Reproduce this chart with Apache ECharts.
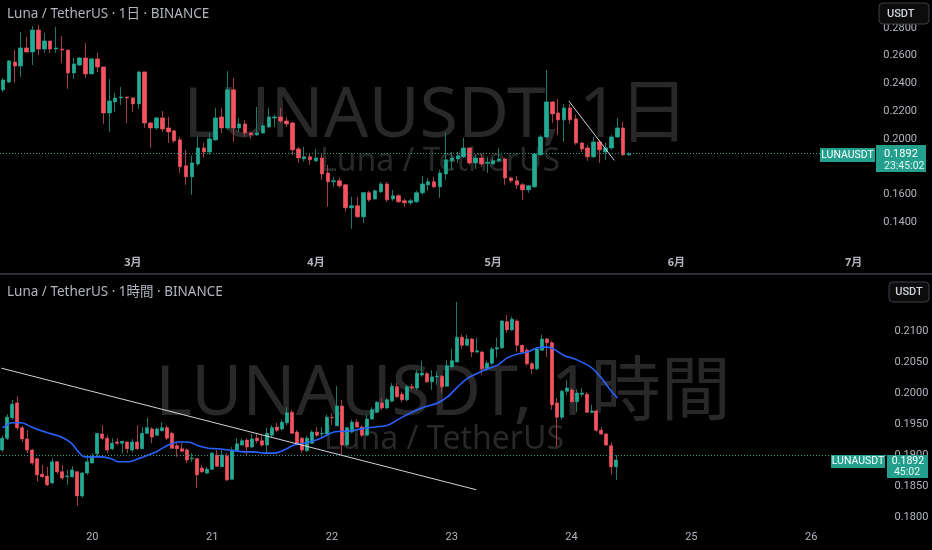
<!DOCTYPE html>
<html><head><meta charset="utf-8">
<script src="https://cdn.jsdelivr.net/npm/echarts/dist/echarts.min.js"></script>
<style>html,body{margin:0;padding:0;background:#000;}#c{width:932px;height:550px;}</style>
</head><body><div id="c"></div><script>
// ---------- DATA ----------
const lastPrice = 0.1892;
const monthLabels = ['3月','4月','5月','6月','7月'];
const dayLabels = ['20','21','22','23','24','25','26'];
// daily candles from 2025-02-07 : [open, close, low, high]
const dailyCandles = [
[0.2353,0.2424,0.2338,0.2439],[0.2410,0.2561,0.2403,0.2568],[0.2554,0.2525,0.2403,0.2640],[0.2525,0.2655,0.2446,0.2770],
[0.2655,0.2626,0.2619,0.2734],[0.2626,0.2784,0.2532,0.2813],[0.2784,0.2647,0.2604,0.2820],[0.2647,0.2705,0.2619,0.2763],
[0.2705,0.2647,0.2619,0.2705],[0.2647,0.2655,0.2619,0.2806],[0.2647,0.2640,0.2547,0.2741],[0.2640,0.2475,0.2360,0.2640],
[0.2475,0.2540,0.2432,0.2583],[0.2532,0.2583,0.2525,0.2590],[0.2583,0.2468,0.2439,0.2691],[0.2468,0.2576,0.2468,0.2583],
[0.2576,0.2518,0.2482,0.2619],[0.2518,0.2187,0.2108,0.2518],[0.2187,0.2273,0.2050,0.2432],[0.2266,0.2295,0.2194,0.2331],
[0.2295,0.2302,0.2245,0.2374],[0.2302,0.2295,0.2115,0.2302],[0.2295,0.2252,0.2194,0.2302],[0.2252,0.2482,0.2216,0.2489],
[0.2482,0.2115,0.2079,0.2482],[0.2115,0.2079,0.1935,0.2122],[0.2079,0.2151,0.2065,0.2158],[0.2151,0.2072,0.2050,0.2201],
[0.2079,0.2050,0.1971,0.2158],[0.2058,0.1986,0.1971,0.2058],[0.1993,0.1799,0.1755,0.2014],[0.1806,0.1727,0.1669,0.1921],
[0.1727,0.1827,0.1597,0.1878],[0.1820,0.1935,0.1806,0.2014],[0.1935,0.1906,0.1863,0.1971],[0.1906,0.2000,0.1885,0.2043],
[0.1993,0.2151,0.1986,0.2223],[0.2158,0.2079,0.2043,0.2223],[0.2079,0.2353,0.2065,0.2489],[0.2353,0.2079,0.1978,0.2439],
[0.2079,0.2108,0.2050,0.2151],[0.2108,0.2043,0.2014,0.2137],[0.2043,0.2029,0.2000,0.2050],[0.2029,0.2043,0.2022,0.2230],
[0.2043,0.2094,0.2036,0.2115],[0.2086,0.2158,0.2079,0.2223],[0.2151,0.2158,0.2086,0.2173],[0.2158,0.2129,0.2115,0.2223],
[0.2129,0.2108,0.2086,0.2158],[0.2115,0.1921,0.1885,0.2122],[0.1928,0.1863,0.1827,0.1942],[0.1856,0.1871,0.1835,0.1942],
[0.1871,0.1849,0.1813,0.1899],[0.1842,0.1863,0.1835,0.1928],[0.1863,0.1748,0.1705,0.1899],[0.1755,0.1691,0.1511,0.1813],
[0.1691,0.1698,0.1655,0.1727],[0.1698,0.1662,0.1647,0.1719],[0.1669,0.1504,0.1475,0.1676],[0.1504,0.1518,0.1353,0.1583],
[0.1518,0.1439,0.1432,0.1583],[0.1439,0.1612,0.1396,0.1619],[0.1612,0.1561,0.1547,0.1626],[0.1568,0.1626,0.1561,0.1633],
[0.1619,0.1676,0.1612,0.1691],[0.1676,0.1561,0.1547,0.1691],[0.1568,0.1590,0.1554,0.1633],[0.1590,0.1547,0.1540,0.1604],
[0.1554,0.1540,0.1511,0.1568],[0.1540,0.1554,0.1525,0.1568],[0.1547,0.1612,0.1540,0.1626],[0.1612,0.1676,0.1597,0.1734],
[0.1669,0.1691,0.1626,0.1719],[0.1691,0.1655,0.1647,0.1727],[0.1655,0.1755,0.1576,0.1777],[0.1748,0.1849,0.1705,0.2043],
[0.1842,0.1863,0.1777,0.1906],[0.1856,0.1878,0.1827,0.1906],[0.1871,0.1935,0.1863,0.2007],[0.1935,0.1827,0.1813,0.1935],
[0.1827,0.1863,0.1784,0.1885],[0.1863,0.1820,0.1799,0.1892],[0.1824,0.1831,0.1755,0.1871],[0.1820,0.1842,0.1813,0.1863],
[0.1842,0.1856,0.1835,0.1935],[0.1856,0.1719,0.1669,0.1863],[0.1719,0.1698,0.1683,0.1727],[0.1698,0.1669,0.1640,0.1734],
[0.1669,0.1633,0.1561,0.1683],[0.1633,0.1662,0.1612,0.1669],[0.1655,0.1892,0.1647,0.1899],[0.1885,0.2014,0.1878,0.2029],
[0.2014,0.2266,0.2000,0.2496],[0.2266,0.2180,0.2115,0.2273],[0.2187,0.2137,0.2029,0.2288],[0.2137,0.2223,0.1978,0.2252],
[0.2223,0.2137,0.2108,0.2252],[0.2144,0.1971,0.1957,0.2173],[0.1971,0.1928,0.1906,0.1978],[0.1935,0.1871,0.1842,0.1957],
[0.1871,0.1978,0.1863,0.2014],[0.1978,0.1921,0.1827,0.1993],[0.1906,0.1935,0.1849,0.1971],[0.1935,0.2014,0.1921,0.2029],
[0.2014,0.2079,0.2007,0.2151],[0.2079,0.1885,0.1878,0.2122],[0.1885,0.1892,0.1878,0.1906]
];
// hourly candles from 19日 06:00 : [open, close, low, high]
const hourlyCandles = [
[0.1908,0.1927,0.1905,0.1931],[0.1927,0.1961,0.1924,0.1966],[0.1960,0.1982,0.1957,0.1989],[0.1984,0.1944,0.1940,0.1995],
[0.1944,0.1926,0.1921,0.1947],[0.1926,0.1908,0.1903,0.1940],[0.1908,0.1887,0.1884,0.1910],[0.1894,0.1868,0.1857,0.1895],
[0.1869,0.1865,0.1863,0.1884],[0.1866,0.1852,0.1850,0.1881],[0.1855,0.1889,0.1853,0.1895],[0.1889,0.1873,0.1869,0.1890],
[0.1873,0.1863,0.1860,0.1884],[0.1865,0.1866,0.1852,0.1876],[0.1865,0.1876,0.1863,0.1882],[0.1873,0.1834,0.1818,0.1873],
[0.1834,0.1871,0.1831,0.1873],[0.1871,0.1889,0.1868,0.1897],[0.1887,0.1897,0.1887,0.1903],[0.1902,0.1935,0.1897,0.1935],
[0.1934,0.1927,0.1924,0.1948],[0.1927,0.1908,0.1903,0.1932],[0.1910,0.1919,0.1908,0.1927],[0.1921,0.1919,0.1916,0.1927],
[0.1919,0.1922,0.1903,0.1923],[0.1921,0.1910,0.1903,0.1921],[0.1908,0.1921,0.1905,0.1926],[0.1921,0.1910,0.1908,0.1948],
[0.1910,0.1935,0.1910,0.1945],[0.1935,0.1944,0.1934,0.1960],[0.1942,0.1929,0.1919,0.1945],[0.1932,0.1942,0.1931,0.1944],
[0.1939,0.1944,0.1939,0.1953],[0.1944,0.1927,0.1924,0.1948],[0.1935,0.1911,0.1910,0.1937],[0.1915,0.1910,0.1897,0.1919],
[0.1910,0.1906,0.1905,0.1919],[0.1908,0.1892,0.1887,0.1911],[0.1894,0.1895,0.1889,0.1903],[0.1894,0.1868,0.1847,0.1895],
[0.1879,0.1873,0.1871,0.1884],[0.1871,0.1877,0.1869,0.1881],[0.1877,0.1903,0.1876,0.1905],[0.1900,0.1882,0.1881,0.1908],
[0.1881,0.1900,0.1881,0.1908],[0.1898,0.1860,0.1858,0.1903],[0.1861,0.1908,0.1860,0.1913],[0.1908,0.1918,0.1905,0.1927],
[0.1916,0.1923,0.1915,0.1927],[0.1924,0.1913,0.1900,0.1927],[0.1913,0.1926,0.1911,0.1934],[0.1927,0.1923,0.1919,0.1934],
[0.1923,0.1916,0.1913,0.1932],[0.1916,0.1935,0.1903,0.1944],[0.1932,0.1944,0.1929,0.1948],[0.1945,0.1940,0.1937,0.1952],
[0.1942,0.1953,0.1939,0.1957],[0.1952,0.1968,0.1948,0.1977],[0.1969,0.1935,0.1934,0.1973],[0.1937,0.1919,0.1916,0.1940],
[0.1927,0.1908,0.1903,0.1929],[0.1907,0.1927,0.1905,0.1931],[0.1919,0.1937,0.1919,0.1940],[0.1937,0.1932,0.1929,0.1945],
[0.1934,0.1935,0.1929,0.1945],[0.1934,0.1961,0.1932,0.1965],[0.1961,0.1960,0.1948,0.1968],[0.1947,0.1979,0.1947,0.2011],
[0.1979,0.1916,0.1900,0.1989],[0.1916,0.1944,0.1915,0.1945],[0.1937,0.1953,0.1935,0.1957],[0.1953,0.1945,0.1944,0.1958],
[0.1945,0.1932,0.1929,0.1948],[0.1932,0.1958,0.1931,0.1965],[0.1958,0.1973,0.1957,0.1977],[0.1969,0.1985,0.1968,0.1987],
[0.1984,0.1976,0.1973,0.1992],[0.1976,0.1989,0.1974,0.1992],[0.1987,0.2011,0.1985,0.2016],[0.2010,0.1994,0.1992,0.2016],
[0.1998,0.1989,0.1985,0.2002],[0.1989,0.2010,0.1987,0.2013],[0.2010,0.2008,0.2005,0.2015],[0.2008,0.2032,0.2005,0.2037],
[0.2029,0.2032,0.2026,0.2052],[0.2031,0.2018,0.2016,0.2034],[0.2018,0.2026,0.2005,0.2037],[0.2026,0.2027,0.2013,0.2035],
[0.2027,0.2010,0.2000,0.2029],[0.2011,0.2044,0.2010,0.2053],[0.2042,0.2052,0.2042,0.2071],[0.2050,0.2090,0.2050,0.2147],
[0.2090,0.2077,0.2071,0.2094],[0.2077,0.2087,0.2076,0.2094],[0.2087,0.2066,0.2058,0.2089],[0.2066,0.2068,0.2065,0.2089],
[0.2066,0.2039,0.2029,0.2068],[0.2039,0.2048,0.2036,0.2052],[0.2048,0.2071,0.2045,0.2074],[0.2071,0.2073,0.2057,0.2089],
[0.2073,0.2116,0.2071,0.2118],[0.2115,0.2102,0.2097,0.2126],[0.2102,0.2119,0.2100,0.2123],[0.2116,0.2077,0.2066,0.2119],
[0.2077,0.2066,0.2065,0.2077],[0.2069,0.2047,0.2044,0.2073],[0.2047,0.2039,0.2031,0.2050],[0.2039,0.2071,0.2037,0.2074],
[0.2069,0.2087,0.2068,0.2094],[0.2087,0.2081,0.2058,0.2089],[0.2081,0.1981,0.1973,0.2084],[0.1984,0.1961,0.1913,0.1992],
[0.1961,0.2003,0.1957,0.2005],[0.2003,0.2008,0.1997,0.2021],[0.2005,0.1986,0.1984,0.2008],[0.1986,0.2000,0.1969,0.2006],
[0.1998,0.2000,0.1994,0.2008],[0.1998,0.1969,0.1968,0.2002],[0.1969,0.1971,0.1968,0.1981],[0.1971,0.1940,0.1937,0.1973],
[0.1940,0.1934,0.1932,0.1945],[0.1934,0.1916,0.1915,0.1935],[0.1915,0.1881,0.1868,0.1921],[0.1881,0.1892,0.1860,0.1900]
];
// moving average: hour offset from first candle, value
const maHour = [0,0.8,1.8,3.8,5.8,7.8,9.8,11.8,13.8,15.2,16.4,17.8,19.8,21.8,23.2,25.2,27.2,29.2,31.2,33.2,35.2,37.2,39.2,41.2,43.2,45.2,46.4,48.4,50.4,52.4,54.4,56.4,58.4,60.4,62.4,63.8,66.4,69.8,73.2,77.2,79.2,81.8,84.4,87.2,89.2,91.2,93.2,95.2,97.2,99.2,101.2,103.2,105.2,107.2,109.2,110.4,112.4,115.2,117.8,119.8,121.8,123.2];
const maValue = [0.1944,0.1948,0.1952,0.1952,0.1945,0.1939,0.1934,0.1929,0.1919,0.1905,0.1897,0.1897,0.1897,0.1894,0.1889,0.1889,0.1894,0.1900,0.1907,0.1916,0.1921,0.1921,0.1915,0.1911,0.1910,0.1908,0.1907,0.1905,0.1905,0.1903,0.1903,0.1908,0.1916,0.1919,0.1923,0.1927,0.1937,0.1939,0.1944,0.1948,0.1957,0.1968,0.1977,0.1984,0.1994,0.2010,0.2024,0.2032,0.2039,0.2045,0.2057,0.2063,0.2066,0.2073,0.2074,0.2071,0.2061,0.2053,0.2042,0.2026,0.2005,0.1992];
// drawn trend lines: [position index, price]
const dailyTrend = [[95.8,0.2273],[103.5,0.1845]];
const hourlyTrend = [[-0.2,0.2040],[94.9,0.1844]];

// ---------- categories ----------
const dayCats = [];
for (let i = 0; i < 148; i++) { const d = new Date(Date.UTC(2025, 1, 7 + i)); dayCats.push((d.getUTCMonth() + 1) + '/' + d.getUTCDate()); }
const hourCats = [];
for (let i = 0; i < 178; i++) { const h = 6 + i; hourCats.push((19 + Math.floor(h / 24)) + ' ' + String(h % 24).padStart(2, '0')); }

const UP = '#22ab94', DOWN = '#f7525f', UPW = '#1d7a6a', DOWNW = '#a33d48';
const TXT = '#b2b5be';
const FONT = '"Noto Sans","Noto Sans CJK JP",sans-serif';
const AXF = 'Roboto,"Noto Sans",sans-serif';
const LBL = '#22a08d';

const chart = echarts.init(document.getElementById('c'), null, {renderer: 'canvas'});
function wickSeries(xi, yi, data, bw) {
  return {type: 'candlestick', xAxisIndex: xi, yAxisIndex: yi, data: data, barWidth: bw, z: 2,
    itemStyle: {color: UPW, color0: DOWNW, borderColor: UPW, borderColor0: DOWNW, borderWidth: 1}};
}
function bodySeries(xi, yi, data, bw) {
  return {type: 'candlestick', xAxisIndex: xi, yAxisIndex: yi, data: data, barWidth: bw, z: 3,
    itemStyle: {color: UP, color0: DOWN, borderColor: 'rgba(0,0,0,0)', borderColor0: 'rgba(0,0,0,0)', borderWidth: 0},
    markLine: {silent: true, symbol: ['none', 'none'], label: {show: false}, animation: false,
      lineStyle: {type: [1, 2], color: '#22a08d', width: 1}, data: [{yAxis: lastPrice}]}};
}
const yLabel = (m) => ({color: TXT, fontSize: 11, fontFamily: AXF, margin: m,
  formatter: v => v.toFixed(4)});

chart.setOption({
  backgroundColor: '#000',
  animation: false,
  textStyle: {fontFamily: FONT},
  grid: [
    {left: -3.4, top: 0, width: 877.6, height: 250},
    {left: -1.5, top: 300, width: 890, height: 217}
  ],
  xAxis: [
    {type: 'category', gridIndex: 0, data: dayCats, boundaryGap: true,
      axisLine: {show: false}, axisTick: {show: false}, splitLine: {show: false},
      axisLabel: {color: TXT, fontSize: 11, fontWeight: 'bold', margin: 7,
        interval: (i, v) => v.split('/')[1] === '1',
        formatter: v => monthLabels[Number(v.split('/')[0]) - 3] || ''}},
    {type: 'value', gridIndex: 0, min: -0.5, max: 147.5, show: false},
    {type: 'category', gridIndex: 1, data: hourCats, boundaryGap: true,
      axisLine: {show: false}, axisTick: {show: false}, splitLine: {show: false},
      axisLabel: {color: TXT, fontSize: 11, fontFamily: AXF, margin: 15,
        interval: (i, v) => v.split(' ')[1] === '00',
        formatter: v => dayLabels[Number(v.split(' ')[0]) - 20] || ''}},
    {type: 'value', gridIndex: 1, min: -0.5, max: 177.5, show: false}
  ],
  yAxis: [
    {type: 'value', gridIndex: 0, position: 'right', min: 0.12, max: 0.30, interval: 0.02,
      axisLine: {show: false}, axisTick: {show: false}, splitLine: {show: false},
      axisLabel: Object.assign(yLabel(9), {showMinLabel: false, showMaxLabel: false})},
    {type: 'value', gridIndex: 1, position: 'right', min: 0.18, max: 0.215, interval: 0.005,
      axisLine: {show: false}, axisTick: {show: false}, splitLine: {show: false},
      axisLabel: Object.assign(yLabel(6), {showMaxLabel: false})}
  ],
  series: [
    wickSeries(0, 0, dailyCandles, 4),
    bodySeries(0, 0, dailyCandles, 4),
    wickSeries(2, 1, hourlyCandles, 3.5),
    bodySeries(2, 1, hourlyCandles, 3.5),
    {type: 'line', xAxisIndex: 3, yAxisIndex: 1, data: maHour.map((h, i) => [h, maValue[i]]),
      smooth: 0.3, symbol: 'none', z: 4, lineStyle: {color: '#2962ff', width: 1.6}},
    {type: 'line', xAxisIndex: 1, yAxisIndex: 0, data: dailyTrend, symbol: 'none', z: 5,
      lineStyle: {color: '#d1d4dc', width: 1}},
    {type: 'line', xAxisIndex: 3, yAxisIndex: 1, data: hourlyTrend, symbol: 'none', z: 5,
      lineStyle: {color: '#d1d4dc', width: 1}}
  ]
});

const yTop = chart.convertToPixel({yAxisIndex: 0}, lastPrice);
const yBot = chart.convertToPixel({yAxisIndex: 1}, lastPrice);
const WM = '#282828';
const lf = '10.5px ' + AXF;
chart.setOption({
  graphic: [
    {type: 'text', z: 0, x: 436, y: 117, style: {text: 'LUNAUSDT, 1日', fill: WM, font: '70px ' + FONT, textAlign: 'center', textVerticalAlign: 'middle'}},
    {type: 'text', z: 0, x: 440, y: 162, style: {text: 'Luna / TetherUS', fill: WM, font: '32px ' + FONT, textAlign: 'center', textVerticalAlign: 'middle'}},
    {type: 'text', z: 0, x: 443, y: 395, style: {text: 'LUNAUSDT, 1時間', fill: WM, font: '70px ' + FONT, textAlign: 'center', textVerticalAlign: 'middle'}},
    {type: 'text', z: 0, x: 444, y: 440, style: {text: 'Luna / TetherUS', fill: WM, font: '32px ' + FONT, textAlign: 'center', textVerticalAlign: 'middle'}},
    {type: 'text', z: 100, x: 7, y: 14, style: {text: 'Luna / TetherUS · 1日 · BINANCE', fill: TXT, font: '13.5px ' + FONT, textAlign: 'left', textVerticalAlign: 'middle'}},
    {type: 'text', z: 100, x: 7, y: 292, style: {text: 'Luna / TetherUS · 1時間 · BINANCE', fill: TXT, font: '13.5px ' + FONT, textAlign: 'left', textVerticalAlign: 'middle'}},
    {type: 'rect', z: 100, shape: {x: 0, y: 273, width: 932, height: 2}, style: {fill: '#2a2e39'}},
    {type: 'rect', z: 100, shape: {x: 879, y: 3, width: 50, height: 21, r: 4}, style: {fill: '#0c0c0c', stroke: '#3a3e48', lineWidth: 1}},
    {type: 'text', z: 101, x: 887, y: 14, style: {text: 'USDT', fill: '#d1d4dc', font: '500 11px ' + AXF, textAlign: 'left', textVerticalAlign: 'middle'}},
    {type: 'rect', z: 100, shape: {x: 889, y: 282, width: 40, height: 20, r: 4}, style: {fill: '#0c0c0c', stroke: '#3a3e48', lineWidth: 1}},
    {type: 'text', z: 101, x: 909, y: 292, style: {text: 'USDT', fill: '#d1d4dc', font: '500 11px ' + AXF, textAlign: 'center', textVerticalAlign: 'middle'}},
    // price labels top
    {type: 'rect', z: 100, shape: {x: 820, y: yTop - 6, width: 55, height: 14}, style: {fill: LBL}},
    {type: 'text', z: 101, x: 847.5, y: yTop + 1, style: {text: 'LUNAUSDT', fill: '#fff', font: lf, textAlign: 'center', textVerticalAlign: 'middle'}},
    {type: 'rect', z: 100, shape: {x: 876, y: yTop - 9, width: 50, height: 27}, style: {fill: LBL}},
    {type: 'text', z: 101, x: 884, y: yTop + 0.5, style: {text: lastPrice.toFixed(4), fill: '#fff', font: '11px ' + AXF, textAlign: 'left', textVerticalAlign: 'middle'}},
    {type: 'text', z: 101, x: 884, y: yTop + 12, style: {text: '23:45:02', fill: '#e6f4f1', font: lf, textAlign: 'left', textVerticalAlign: 'middle'}},
    // price labels bottom
    {type: 'rect', z: 100, shape: {x: 831, y: yBot - 5, width: 54, height: 13}, style: {fill: LBL}},
    {type: 'text', z: 101, x: 858, y: yBot + 1.5, style: {text: 'LUNAUSDT', fill: '#fff', font: lf, textAlign: 'center', textVerticalAlign: 'middle'}},
    {type: 'rect', z: 100, shape: {x: 887, y: yBot - 5, width: 41, height: 23}, style: {fill: LBL}},
    {type: 'text', z: 101, x: 908, y: yBot + 1, style: {text: lastPrice.toFixed(4), fill: '#fff', font: lf, textAlign: 'center', textVerticalAlign: 'middle'}},
    {type: 'text', z: 101, x: 907, y: yBot + 12, style: {text: '45:02', fill: '#e6f4f1', font: lf, textAlign: 'center', textVerticalAlign: 'middle'}}
  ]
});
</script></body></html>
